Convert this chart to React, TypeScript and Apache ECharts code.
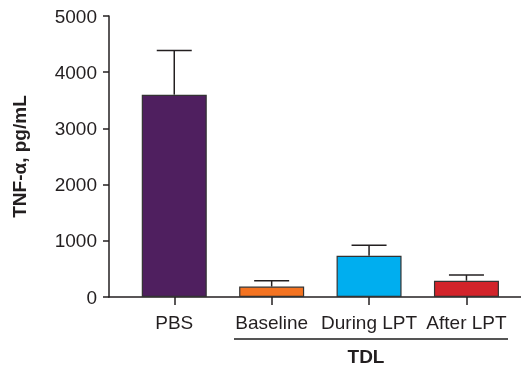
import React, { useEffect, useRef } from "react";
import * as echarts from "echarts";

const categories = ["PBS", "Baseline", "During LPT", "After LPT"];
const means = [3600, 185, 735, 290];
const errorTops = [4385, 290, 920, 390];
const colors = ["#4F1F5F", "#F47321", "#00AEEF", "#D2232A"];
const yTicks = [0, 1000, 2000, 3000, 4000, 5000];
const groupLabel = "TDL";
const yName = "TNF-α, pg/mL";

export default function App() {
  const ref = useRef<HTMLDivElement>(null);
  useEffect(() => {
    if (!ref.current) return;
    const chart = echarts.init(ref.current, null, { renderer: "svg" });
    const font = "'Liberation Sans', Arial, sans-serif";
    const positions = categories.map((_, i) => i);
    chart.setOption({
      animation: false,
      textStyle: { fontFamily: font },
      grid: { left: 109, right: 0, top: 16, bottom: 70, containLabel: false },
      xAxis: {
        type: "value",
        min: -0.67,
        max: 3.56,
        axisLine: { show: true, onZero: false, lineStyle: { color: "#231F20", width: 1.5 } },
        axisTick: { show: true, customValues: positions, length: 8, inside: false, lineStyle: { color: "#231F20", width: 1.5 } },
        axisLabel: {
          customValues: positions,
          formatter: (v: number) => categories[Math.round(v)] ?? "",
          fontSize: 19,
          color: "#231F20",
          fontFamily: font,
          margin: 16,
        },
        splitLine: { show: false },
      },
      yAxis: {
        type: "value",
        min: yTicks[0],
        max: yTicks[yTicks.length - 1],
        interval: 1000,
        name: yName,
        nameLocation: "middle",
        nameGap: 80,
        nameTextStyle: { fontSize: 19, fontWeight: "bold", color: "#231F20", fontFamily: font },
        axisLine: { show: true, onZero: false, lineStyle: { color: "#231F20", width: 1.5 } },
        axisTick: { show: true, length: 6, lineStyle: { color: "#231F20", width: 1.5 } },
        axisLabel: { fontSize: 19, color: "#231F20", fontFamily: font, margin: 12, formatter: (v: number) => String(v) },
        splitLine: { show: false },
      },
      series: [
        {
          type: "bar",
          barWidth: 65,
          data: means.map((v, i) => ({
            value: [i, v],
            itemStyle: { color: colors[i], borderColor: "#333333", borderWidth: 1.2 },
          })),
        },
        {
          type: "custom",
          z: 1,
          data: errorTops.map((e, i) => [i, means[i], e]),
          renderItem: (params: any, api: any) => {
            const x = api.value(0);
            const base = api.coord([x, api.value(1)]);
            const top = api.coord([x, api.value(2)]);
            const half = 17.5;
            return {
              type: "group",
              children: [
                { type: "line", shape: { x1: base[0], y1: base[1], x2: top[0], y2: top[1] }, style: { stroke: "#231F20", lineWidth: 1.5 } },
                { type: "line", shape: { x1: top[0] - half, y1: top[1], x2: top[0] + half, y2: top[1] }, style: { stroke: "#231F20", lineWidth: 1.5 } },
              ],
            };
          },
        },
      ],
      graphic: [
        { type: "line", shape: { x1: 234, y1: 339, x2: 508, y2: 339 }, style: { stroke: "#555555", lineWidth: 2 } },
        {
          type: "text",
          x: 366,
          y: 356,
          style: { text: groupLabel, font: `bold 19px ${font}`, fill: "#231F20", align: "center", verticalAlign: "middle" },
        },
      ],
    });
    return () => chart.dispose();
  }, []);
  return <div ref={ref} style={{ position: "fixed", left: 0, top: 0, width: 521, height: 367 }} />;
}
